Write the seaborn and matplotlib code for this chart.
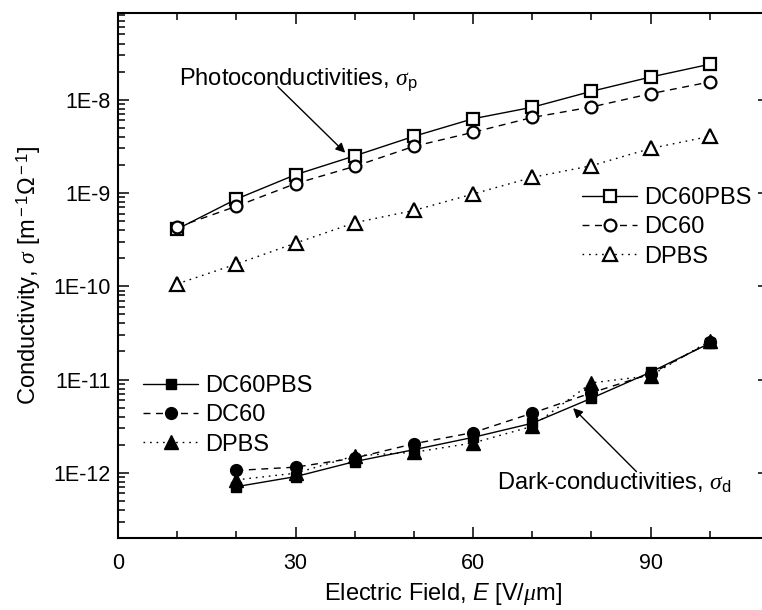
import numpy as np
import pandas as pd
import matplotlib
matplotlib.use("Agg")
import matplotlib.pyplot as plt
import matplotlib.ticker as mticker
import seaborn as sns

# ---------------- data ----------------
field_photo = [10, 20, 30, 40, 50, 60, 70, 80, 90, 100]
photo_dc60pbs = [4.1e-10, 8.6e-10, 1.57e-9, 2.5e-9, 4.05e-9, 6.25e-9, 8.3e-9, 1.23e-8, 1.75e-8, 2.4e-8]
photo_dc60 = [4.3e-10, 7.2e-10, 1.26e-9, 1.93e-9, 3.16e-9, 4.47e-9, 6.45e-9, 8.35e-9, 1.16e-8, 1.55e-8]
photo_dpbs = [1.06e-10, 1.73e-10, 2.9e-10, 4.8e-10, 6.5e-10, 9.75e-10, 1.47e-9, 1.96e-9, 3.0e-9, 4.05e-9]

field_dark = [20, 30, 40, 50, 60, 70, 80, 90, 100]
dark_dc60pbs = [7.1e-13, 9.1e-13, 1.32e-12, 1.77e-12, 2.4e-12, 3.4e-12, 6.3e-12, 1.2e-11, 2.45e-11]
dark_dc60 = [1.06e-12, 1.15e-12, 1.44e-12, 2.05e-12, 2.7e-12, 4.36e-12, 7.2e-12, 1.15e-11, 2.5e-11]
dark_dpbs = [8.4e-13, 9.9e-13, 1.52e-12, 1.66e-12, 2.09e-12, 3.15e-12, 9.2e-12, 1.1e-11, 2.6e-11]

series_names = ["DC60PBS", "DC60", "DPBS"]
y_major = [1e-12, 1e-11, 1e-10, 1e-9, 1e-8]

# ---------------- style ----------------
sns.set_style("ticks")
plt.rcParams['font.family'] = ['Liberation Sans', 'DejaVu Sans']
plt.rcParams['mathtext.fontset'] = 'custom'
plt.rcParams['mathtext.rm'] = 'Liberation Sans'
plt.rcParams['mathtext.it'] = 'Liberation Serif:italic'
plt.rcParams['mathtext.sf'] = 'Liberation Sans:italic'
plt.rcParams['mathtext.bf'] = 'Liberation Sans:bold'
plt.rcParams['text.color'] = 'black'
plt.rcParams['axes.labelcolor'] = 'black'
plt.rcParams['xtick.color'] = 'black'
plt.rcParams['ytick.color'] = 'black'

W, H = 762, 610
fig = plt.figure(figsize=(W / 100, H / 100), dpi=100, facecolor="white")
L, R, T, B = 118, 769, 13, 538
ax = fig.add_axes([L / W, 1 - B / H, (R - L) / W, (B - T) / H])
ax.set_facecolor("white")

solid = '-'
dashed = (0, (5, 4))
dotted = (0, (1.2, 3.5))
styles = [solid, dashed, dotted]
markers = ['s', 'o', '^']
msizes = [8, 8.5, 9.5]

photo_handles = []
for vals, ls, mk, ms in zip([photo_dc60pbs, photo_dc60, photo_dpbs], styles, markers, msizes):
    sns.lineplot(x=field_photo, y=vals, ax=ax, color='black', linestyle=ls, linewidth=1.0,
                 marker=mk, markersize=ms, markerfacecolor='white', markeredgecolor='black',
                 markeredgewidth=1.6, legend=False, errorbar=None, sort=False)
    photo_handles.append(ax.lines[-1])

dark_handles = []
for vals, ls, mk, ms in zip([dark_dc60pbs, dark_dc60, dark_dpbs], styles, markers, [7.5, 8.5, 9.5]):
    sns.lineplot(x=field_dark, y=vals, ax=ax, color='black', linestyle=ls, linewidth=1.0,
                 marker=mk, markersize=ms, markerfacecolor='black', markeredgecolor='black',
                 markeredgewidth=1.0, legend=False, errorbar=None, sort=False)
    dark_handles.append(ax.lines[-1])

ax.set_yscale('log')
ax.set_xlim(0, 110)
ax.set_ylim(2e-13, 8.5e-8)

ax.xaxis.set_major_locator(mticker.MultipleLocator(30))
ax.xaxis.set_minor_locator(mticker.MultipleLocator(10))
ax.yaxis.set_major_locator(mticker.FixedLocator(y_major))
ax.yaxis.set_major_formatter(mticker.FuncFormatter(lambda v, p: "1E%d" % int(round(np.log10(v)))))
ax.yaxis.set_minor_locator(mticker.LogLocator(base=10, subs=np.arange(2, 10), numticks=50))
ax.yaxis.set_minor_formatter(mticker.NullFormatter())

ax.tick_params(which='both', direction='in', top=True, right=True, width=1.1, colors='black')
ax.tick_params(which='major', length=8)
ax.tick_params(which='minor', length=5)
ax.tick_params(axis='x', which='major', labelsize=15.5, pad=11)
ax.tick_params(axis='y', which='major', labelsize=15.5, pad=5)
for s in ax.spines.values():
    s.set_linewidth(1.5)
    s.set_color('black')
    s.set_visible(True)

ax.set_xlabel(r"Electric Field, $\mathsf{E}$ [V/$\mu$m]", fontsize=17, color='black')
ax.set_ylabel(r"Conductivity, $\sigma$ [m$^{\rm -1}\Omega^{\rm -1}$]", fontsize=17, color='black')
ax.xaxis.set_label_coords((443 - L) / (R - L), -(581 - B) / (B - T))
ax.yaxis.set_label_coords((43 - L) / (R - L), 0.5)

leg1 = ax.legend(photo_handles, series_names, loc='upper left', frameon=False, fontsize=17,
                 bbox_to_anchor=(582 / W, 1 - 187 / H), bbox_transform=fig.transFigure,
                 borderpad=0, borderaxespad=0, handlelength=2.35, handletextpad=0.3,
                 labelspacing=0.31, labelcolor='black')
ax.add_artist(leg1)
leg2 = ax.legend(dark_handles, series_names, loc='upper left', frameon=False, fontsize=17,
                 bbox_to_anchor=(143 / W, 1 - 375 / H), bbox_transform=fig.transFigure,
                 borderpad=0, borderaxespad=0, handlelength=2.35, handletextpad=0.3,
                 labelspacing=0.31, labelcolor='black')

arrow = dict(arrowstyle='-|>', color='black', lw=1.0, mutation_scale=14, shrinkA=0, shrinkB=0)
ax.annotate(r"Photoconductivities, $\sigma_{\rm p}$", xy=(38.4, 2.7e-9), xytext=(10.3, 1.45e-8),
            fontsize=17, ha='left', va='baseline', color='black')
ax.annotate("", xy=(38.4, 2.7e-9), xytext=(27.0, 1.38e-8), arrowprops=arrow)
ax.annotate(r"Dark-conductivities, $\sigma_{\rm d}$", xy=(76.9, 4.94e-12), xytext=(64.0, 6.58e-13),
            fontsize=17, ha='left', va='baseline', color='black')
ax.annotate("", xy=(76.9, 4.94e-12), xytext=(87.6, 1.03e-12), arrowprops=arrow)

fig.savefig("out.png", dpi=100, facecolor="white")
